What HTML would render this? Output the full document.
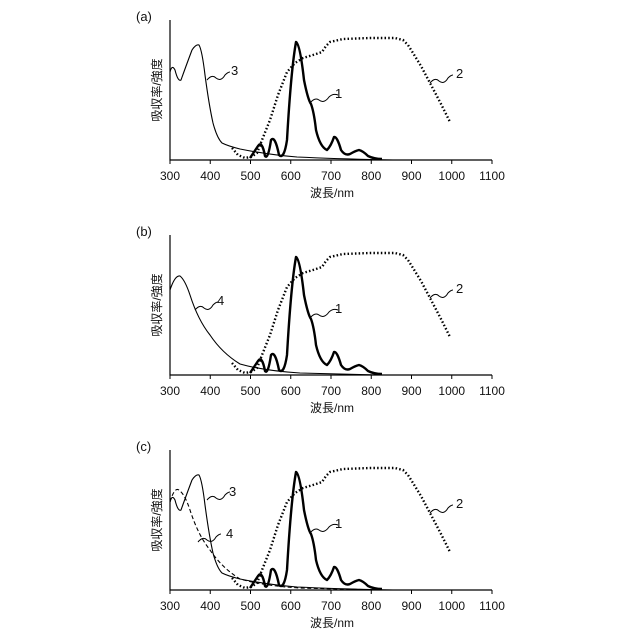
<!DOCTYPE html>
<html><head><meta charset="utf-8"><style>
body{margin:0;background:#fff}
svg{display:block}
text{font-family:"Liberation Sans","Noto Sans CJK JP",sans-serif;fill:#111}
</style></head><body>
<svg width="640" height="640" viewBox="0 0 640 640">
<defs>
<g id="axes">
<polyline points="170,20 170,160 492,160" fill="none" stroke="#000" stroke-width="1.2"/>
<g stroke="#000" stroke-width="1">
<line x1="170" y1="160" x2="170" y2="164"/><line x1="210.25" y1="160" x2="210.25" y2="164"/>
<line x1="250.5" y1="160" x2="250.5" y2="164"/><line x1="290.75" y1="160" x2="290.75" y2="164"/>
<line x1="331" y1="160" x2="331" y2="164"/><line x1="371.25" y1="160" x2="371.25" y2="164"/>
<line x1="411.5" y1="160" x2="411.5" y2="164"/><line x1="451.75" y1="160" x2="451.75" y2="164"/>
<line x1="492" y1="160" x2="492" y2="164"/>
</g>
<g font-size="12" text-anchor="middle">
<text x="170" y="180">300</text><text x="210.25" y="180">400</text><text x="250.5" y="180">500</text>
<text x="290.75" y="180">600</text><text x="331" y="180">700</text><text x="371.25" y="180">800</text>
<text x="411.5" y="180">900</text><text x="451.75" y="180">1000</text><text x="492" y="180">1100</text>
<text x="332" y="197">波長/nm</text>
</g>
<text font-size="12" text-anchor="middle" transform="translate(161,90) rotate(-90)">吸収率/強度</text>
<path d="M250,158 L258,146 Q262,140 265,156 Q268,160 271,140 Q275,135 279,155 Q284,160 287,140 Q291,70 296,42 Q300,44 304,80 Q308,100 311,104 Q314,112 316,130 Q320,147 327,150 Q331,146 334,137 Q337,136 341,150 Q345,156 350,154 Q355,151 359,150 Q363,151 368,156 Q374,159 382,159" fill="none" stroke="#000" stroke-width="2.4" stroke-linejoin="round"/>
<polyline points="232,148 238,155 245,158 251,157 257,153 262,140 270,120 278,95 287,72 295,63 303,58 313,55 322,52 326,46 330,42 343,39 370,38 395,38 403,40 408,45 413,53 421,66 430,83 440,102 450,122" fill="none" stroke="#000" stroke-width="2.4" stroke-dasharray="1.5,2.2"/>
<path d="M430,83 q5,-6 9,-2 q5,4 9,-3 q3,-3 5,-3" fill="none" stroke="#000" stroke-width="1"/>
<text x="456" y="78" font-size="13">2</text>
<path d="M310,103 q5,-6 9,-3 q5,4 10,-3 q4,-4 9,-2" fill="none" stroke="#000" stroke-width="1"/>
<text x="335" y="98" font-size="13">1</text>
</g>
<path id="c3" d="M170,72 Q172,64 175,70 Q178,82 181,80 Q186,66 192,50 Q196,44 199,45 Q202,50 205,75 Q209,105 213,123 Q217,138 222,143 Q228,146 240,149 Q270,155 297,157 Q340,159 393,160" fill="none" stroke="#000" stroke-width="1.1"/>
<path id="c4" d="M170,75 Q175,60 180,61 Q185,65 190,80 Q198,105 210,120 Q222,138 240,149 Q265,156 300,158 Q340,159 380,160" fill="none" stroke="#000" stroke-width="1.1"/>
</defs>

<text x="136" y="21" font-size="13">(a)</text>
<use href="#axes"/>
<use href="#c3"/>
<path d="M207,80 q5,-6 9,-2 q5,4 9,-3 q3,-3 5,-3" fill="none" stroke="#000" stroke-width="1"/>
<text x="231" y="75" font-size="13">3</text>

<text x="136" y="236" font-size="13">(b)</text>
<g transform="translate(0,215)">
<use href="#axes"/>
<use href="#c4"/>
<path d="M195,95 q5,-6 9,-2 q5,4 9,-3 q3,-3 5,-3" fill="none" stroke="#000" stroke-width="1"/>
<text x="217" y="90" font-size="13">4</text>
</g>

<text x="136" y="451" font-size="13">(c)</text>
<g transform="translate(0,430)">
<use href="#axes"/>
<use href="#c3"/>
<path d="M170,72 Q175,55 180,61 Q185,65 190,80 Q198,105 210,120 Q222,138 240,149 Q265,156 300,158 Q340,159 380,160" fill="none" stroke="#000" stroke-width="1.1" stroke-dasharray="4,2.5"/>
<path d="M207,70 q5,-6 9,-2 q5,4 9,-3 q3,-3 5,-3" fill="none" stroke="#000" stroke-width="1"/>
<text x="229" y="66" font-size="13">3</text>
<path d="M198,112 q5,-6 9,-2 q5,4 9,-3 q3,-3 5,-3" fill="none" stroke="#000" stroke-width="1"/>
<text x="226" y="108" font-size="13">4</text>
</g>
</svg>
</body></html>
